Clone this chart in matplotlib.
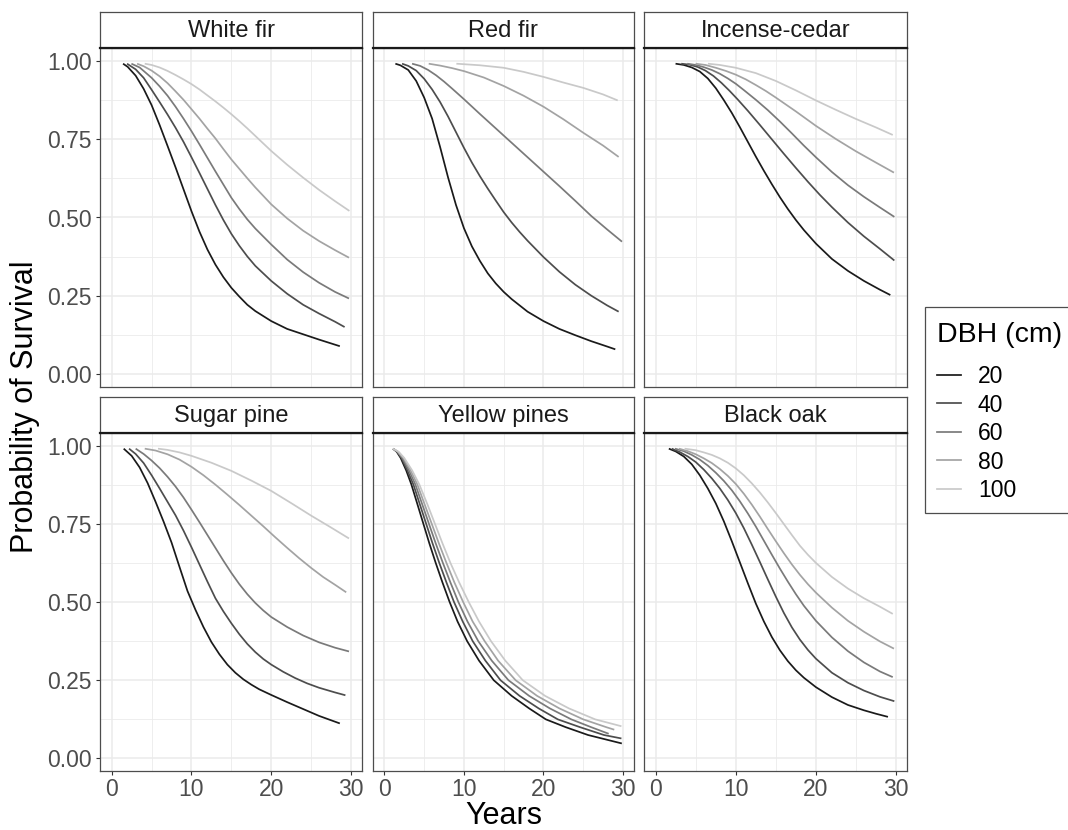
import matplotlib
matplotlib.use("Agg")
import matplotlib.pyplot as plt
from matplotlib.lines import Line2D
from matplotlib.patches import Rectangle

plt.rcParams['font.family'] = ['Liberation Sans', 'DejaVu Sans']

W, H = 1068, 830

species = ["White fir", "Red fir", "Incense-cedar", "Sugar pine", "Yellow pines", "Black oak"]
dbh_labels = ["20", "40", "60", "80", "100"]
dbh_colors = ['#1a1a1a', '#4d4d4d', '#7a7a7a', '#a3a3a3', '#c9c9c9']

# ---- data (years, survival probability) ----
white_fir_years = [
    [1.42, 2, 3, 4, 5, 6, 7, 8, 9, 10, 11, 12, 13, 14, 15, 16, 17, 18, 20, 22, 24, 26, 28.6],
    [1.92, 3, 4, 5, 6, 7, 8, 9, 10, 11, 12, 13, 14, 15, 16, 17, 18, 20, 22, 24, 26, 28, 29.2],
    [2.47, 3.5, 5, 6, 7, 8, 9, 10, 11, 12, 13, 14, 15, 16, 17, 18, 20, 22, 24, 26, 28, 29.75],
    [3.18, 4, 5, 6, 7, 8, 9, 10, 11, 12, 13, 14, 15, 16, 17, 18, 20, 22, 24, 26, 28, 29.75],
    [4.14, 5, 6, 7, 8, 9, 10, 11, 12, 13, 14, 15, 16, 17, 18, 20, 22, 24, 26, 28, 29.8],
]
white_fir_surv = [
    [0.99, 0.98, 0.952, 0.91, 0.858, 0.795, 0.728, 0.66, 0.59, 0.52, 0.455, 0.398, 0.35, 0.31,
     0.276, 0.248, 0.222, 0.202, 0.17, 0.145, 0.128, 0.111, 0.09],
    [0.99, 0.972, 0.945, 0.907, 0.868, 0.828, 0.786, 0.741, 0.692, 0.642, 0.591, 0.54, 0.492,
     0.448, 0.41, 0.376, 0.346, 0.298, 0.257, 0.222, 0.194, 0.168, 0.151],
    [0.99, 0.978, 0.945, 0.918, 0.888, 0.853, 0.815, 0.775, 0.733, 0.69, 0.647, 0.605, 0.563,
     0.527, 0.494, 0.465, 0.414, 0.366, 0.326, 0.292, 0.263, 0.242],
    [0.99, 0.982, 0.968, 0.95, 0.928, 0.902, 0.875, 0.845, 0.815, 0.783, 0.752, 0.718, 0.685,
     0.655, 0.625, 0.596, 0.542, 0.497, 0.458, 0.425, 0.396, 0.372],
    [0.99, 0.986, 0.978, 0.967, 0.954, 0.94, 0.925, 0.908, 0.889, 0.87, 0.85, 0.829, 0.807,
     0.784, 0.76, 0.712, 0.668, 0.627, 0.588, 0.552, 0.521],
]

red_fir_years = [
    [1.38, 2, 3, 4, 5, 6, 7, 8, 9, 10, 11, 12, 13, 14, 15, 16, 17, 18, 20, 22, 24, 26, 28, 29.03],
    [2.22, 3, 4, 5, 6, 7, 8, 9, 10, 11, 12, 13, 14, 15, 16, 17, 18, 20, 22, 24, 26, 28, 29.45],
    [3.48, 4.5, 5.5, 6.5, 7.5, 8.5, 10, 12, 14, 16, 18, 20, 22, 24, 26, 28, 29.87],
    [5.57, 7, 8.5, 10.05, 12.5, 15, 17.5, 20, 22.5, 25, 27.5, 29.45],
    [9.05, 12, 15, 17.5, 20, 22.5, 25, 27.5, 29.33],
]
red_fir_surv = [
    [0.99, 0.985, 0.97, 0.935, 0.882, 0.815, 0.725, 0.628, 0.54, 0.466, 0.408, 0.362, 0.322,
     0.29, 0.263, 0.24, 0.22, 0.2, 0.17, 0.145, 0.125, 0.106, 0.089, 0.08],
    [0.99, 0.983, 0.968, 0.942, 0.908, 0.868, 0.822, 0.772, 0.722, 0.675, 0.632, 0.592, 0.554,
     0.517, 0.484, 0.454, 0.426, 0.374, 0.327, 0.286, 0.251, 0.22, 0.2],
    [0.99, 0.983, 0.97, 0.953, 0.933, 0.911, 0.877, 0.83, 0.784, 0.738, 0.692, 0.646, 0.6,
     0.553, 0.505, 0.462, 0.423],
    [0.99, 0.984, 0.976, 0.966, 0.946, 0.919, 0.888, 0.853, 0.813, 0.77, 0.729, 0.693],
    [0.99, 0.985, 0.977, 0.964, 0.948, 0.93, 0.913, 0.892, 0.873],
]

incense_cedar_years = [
    [2.47, 3.5, 4.5, 5.5, 6.5, 7.5, 8.5, 9.5, 10.5, 11.5, 12.5, 13.5, 14.5, 15.5, 16.5, 17.5,
     18.5, 20, 22, 24, 26, 28, 29.3],
    [3.18, 4.2, 5.2, 6.2, 7.2, 8.2, 9.2, 10.2, 11.5, 13, 14.5, 16, 17.5, 19, 20.5, 22, 24, 26,
     28, 29.8],
    [3.93, 5, 6, 7, 8, 9, 10, 11, 12.5, 14, 15.5, 17, 18.5, 20, 22, 24, 26, 28, 29.8],
    [4.97, 6.2, 7.5, 8.75, 10, 11.25, 12.5, 13.75, 15, 17.5, 20, 22.5, 25, 27.5, 29.75],
    [6.52, 8, 10, 12.5, 15, 17.5, 20, 22.5, 25, 27.5, 29.6],
]
incense_cedar_surv = [
    [0.99, 0.986, 0.978, 0.965, 0.943, 0.912, 0.874, 0.833, 0.788, 0.741, 0.694, 0.649, 0.606,
     0.565, 0.527, 0.492, 0.46, 0.417, 0.368, 0.33, 0.298, 0.27, 0.253],
    [0.99, 0.987, 0.98, 0.968, 0.951, 0.929, 0.904, 0.877, 0.84, 0.795, 0.749, 0.703, 0.658,
     0.614, 0.572, 0.533, 0.484, 0.44, 0.4, 0.363],
    [0.99, 0.986, 0.979, 0.97, 0.958, 0.943, 0.926, 0.906, 0.875, 0.842, 0.806, 0.768, 0.729,
     0.692, 0.645, 0.603, 0.566, 0.532, 0.502],
    [0.99, 0.986, 0.977, 0.967, 0.955, 0.94, 0.922, 0.903, 0.882, 0.838, 0.792, 0.75, 0.711,
     0.675, 0.643],
    [0.99, 0.986, 0.977, 0.96, 0.935, 0.905, 0.873, 0.843, 0.814, 0.787, 0.763],
]

sugar_pine_years = [
    [1.5, 2.5, 3.5, 4.5, 5.5, 6.5, 7.5, 8.5, 9.5, 10.5, 11.5, 12.5, 13.5, 14.5, 15.5, 16.5,
     17.5, 18.5, 20, 22, 24, 26, 28.6],
    [2.17, 3, 4, 5, 6, 7, 8, 9, 10, 11, 12, 13, 14, 15, 16, 17, 18, 19, 20, 21.5, 23, 24.5,
     26, 28, 29.3],
    [3, 4, 5, 6, 7, 8, 9, 10, 11, 12, 13, 14, 15, 16, 17, 18, 19, 20, 22, 24, 26, 28, 29.75],
    [4.14, 5.5, 7, 8.5, 10, 11.5, 13, 14.5, 16, 17.5, 19, 20.5, 22, 23.5, 25, 26.5, 28, 29.4],
    [5.8, 7, 8.5, 10, 12.5, 15, 17.5, 20, 22.5, 25, 27.5, 29.75],
]
sugar_pine_surv = [
    [0.99, 0.967, 0.93, 0.88, 0.82, 0.757, 0.69, 0.612, 0.535, 0.475, 0.42, 0.372, 0.333, 0.3,
     0.274, 0.253, 0.236, 0.221, 0.203, 0.18, 0.158, 0.136, 0.112],
    [0.99, 0.973, 0.944, 0.905, 0.863, 0.82, 0.777, 0.728, 0.675, 0.62, 0.565, 0.512, 0.47,
     0.432, 0.397, 0.366, 0.34, 0.318, 0.3, 0.277, 0.257, 0.24, 0.226, 0.211, 0.202],
    [0.99, 0.973, 0.952, 0.928, 0.9, 0.869, 0.834, 0.795, 0.755, 0.714, 0.673, 0.632, 0.593,
     0.557, 0.525, 0.497, 0.473, 0.452, 0.42, 0.393, 0.371, 0.354, 0.342],
    [0.99, 0.984, 0.972, 0.955, 0.932, 0.905, 0.875, 0.843, 0.81, 0.776, 0.742, 0.707, 0.673,
     0.64, 0.609, 0.58, 0.555, 0.531],
    [0.99, 0.986, 0.978, 0.967, 0.945, 0.919, 0.888, 0.855, 0.816, 0.776, 0.738, 0.703],
]

yellow_pines_years = [
    [1.09, 1.55, 2.05, 2.75, 3.4, 4.15, 4.9, 5.65, 6.45, 7.3, 8.2, 9.2, 10.4, 11.9, 13.75, 16.0,
     18.2, 20.3, 22.8, 25.6, 29.85],
    [1.09, 1.6, 2.15, 2.9, 3.65, 4.45, 5.25, 6.05, 6.9, 7.8, 8.75, 9.85, 11.1, 12.7, 14.6, 17.0,
     19.4, 21.8, 24.6, 27.6, 29.8],
    [1.09, 1.65, 2.25, 3.1, 3.9, 4.75, 5.6, 6.45, 7.35, 8.3, 9.3, 10.45, 11.8, 13.5, 15.6, 18.2,
     20.8, 23.5, 26.0, 28.2],
    [1.09, 1.7, 2.4, 3.3, 4.15, 5.05, 5.95, 6.85, 7.8, 8.8, 9.9, 11.1, 12.6, 14.3, 16.5, 19.2,
     22.0, 25.0, 27.9, 28.9],
    [1.09, 1.8, 2.5, 3.5, 4.4, 5.4, 6.35, 7.3, 8.3, 9.4, 10.6, 11.9, 13.4, 15.2, 17.4, 20.2,
     23.2, 26.5, 29.8],
]
yellow_pines_surv = [
    [0.99, 0.98, 0.96, 0.92, 0.875, 0.8125, 0.75, 0.6875, 0.625, 0.5625, 0.5, 0.4375, 0.375,
     0.3125, 0.25, 0.2, 0.16, 0.125, 0.1, 0.075, 0.048],
    [0.99, 0.98, 0.96, 0.92, 0.875, 0.8125, 0.75, 0.6875, 0.625, 0.5625, 0.5, 0.4375, 0.375,
     0.3125, 0.25, 0.2, 0.16, 0.125, 0.1, 0.075, 0.064],
    [0.99, 0.98, 0.96, 0.92, 0.875, 0.8125, 0.75, 0.6875, 0.625, 0.5625, 0.5, 0.4375, 0.375,
     0.3125, 0.25, 0.2, 0.16, 0.125, 0.1, 0.079],
    [0.99, 0.98, 0.96, 0.92, 0.875, 0.8125, 0.75, 0.6875, 0.625, 0.5625, 0.5, 0.4375, 0.375,
     0.3125, 0.25, 0.2, 0.16, 0.125, 0.1, 0.092],
    [0.99, 0.98, 0.96, 0.92, 0.875, 0.8125, 0.75, 0.6875, 0.625, 0.5625, 0.5, 0.4375, 0.375,
     0.3125, 0.25, 0.2, 0.16, 0.125, 0.103],
]

black_oak_years = [
    [1.63, 2.5, 3.5, 4.5, 5.5, 6.5, 7.5, 8.5, 9.5, 10.5, 11.5, 12.5, 13.5, 14.5, 15.5, 16.5,
     17.5, 18.5, 20, 22, 24, 26, 27.5, 29],
    [2, 3, 4, 5, 6, 7, 8, 9, 10, 11, 12, 13, 14, 15, 16, 17, 18, 19, 20, 22, 24, 26, 28, 29.8],
    [2.4, 3.5, 4.5, 5.5, 6.5, 7.5, 8.5, 9.5, 10.5, 11.5, 12.5, 13.5, 14.5, 15.5, 16.5, 17.5,
     18.5, 20, 22, 24, 26, 28, 29.6],
    [2.9, 4, 5, 6, 7, 8, 9, 10, 11, 12, 13, 14, 15, 16, 17, 18, 19, 20, 22, 24, 26, 28, 29.75],
    [3.6, 5, 6, 7, 8, 9, 10, 11, 12, 13, 14, 15, 16, 17, 18, 19, 20, 22, 24, 26, 28, 29.6],
]
black_oak_surv = [
    [0.99, 0.981, 0.965, 0.94, 0.905, 0.863, 0.815, 0.758, 0.694, 0.627, 0.56, 0.495, 0.438,
     0.388, 0.346, 0.311, 0.282, 0.258, 0.228, 0.196, 0.171, 0.154, 0.143, 0.133],
    [0.99, 0.979, 0.965, 0.947, 0.923, 0.895, 0.863, 0.826, 0.784, 0.736, 0.683, 0.628, 0.572,
     0.517, 0.465, 0.419, 0.38, 0.347, 0.319, 0.274, 0.242, 0.217, 0.197, 0.183],
    [0.99, 0.982, 0.97, 0.955, 0.936, 0.913, 0.887, 0.857, 0.822, 0.783, 0.741, 0.696, 0.651,
     0.607, 0.565, 0.525, 0.488, 0.44, 0.387, 0.343, 0.307, 0.278, 0.26],
    [0.99, 0.982, 0.972, 0.959, 0.944, 0.925, 0.903, 0.877, 0.846, 0.811, 0.773, 0.733, 0.694,
     0.656, 0.62, 0.587, 0.557, 0.53, 0.482, 0.44, 0.405, 0.374, 0.351],
    [0.99, 0.985, 0.978, 0.97, 0.959, 0.945, 0.927, 0.905, 0.879, 0.85, 0.818, 0.784, 0.749,
     0.714, 0.68, 0.651, 0.625, 0.58, 0.543, 0.512, 0.485, 0.462],
]

years_by_species = [white_fir_years, red_fir_years, incense_cedar_years,
                    sugar_pine_years, yellow_pines_years, black_oak_years]
surv_by_species = [white_fir_surv, red_fir_surv, incense_cedar_surv,
                   sugar_pine_surv, yellow_pines_surv, black_oak_surv]

x_ticks = [0, 10, 20, 30]
y_ticks = [0.0, 0.25, 0.5, 0.75, 1.0]
y_tick_labels = ["0.00", "0.25", "0.50", "0.75", "1.00"]

# ---- layout (pixels) ----
col_l = [100, 372.7, 644]
col_r = [362, 634, 907]
row_t = [48, 433]
row_b = [387, 771]
strip_h = 36


def frect(x0, y0, x1, y1):
    return [x0 / W, 1 - y1 / H, (x1 - x0) / W, (y1 - y0) / H]


fig = plt.figure(figsize=(W / 100, H / 100), dpi=100)
fig.patch.set_facecolor('white')

border = '#4d4d4d'
for i, name in enumerate(species):
    r, c = divmod(i, 3)
    ax = fig.add_axes(frect(col_l[c], row_t[r], col_r[c], row_b[r]))
    ax.set_xlim(-1.47, 31.38)
    ax.set_ylim(-0.04, 1.04)
    ax.set_xticks(x_ticks)
    ax.set_xticks([5, 15, 25], minor=True)
    ax.set_yticks(y_ticks)
    ax.set_yticks([0.125, 0.375, 0.625, 0.875], minor=True)
    ax.set_yticklabels(y_tick_labels)
    ax.grid(which='major', color='#ebebeb', lw=1.1)
    ax.grid(which='minor', color='#ebebeb', lw=0.6)
    ax.set_axisbelow(True)
    for sp in ax.spines.values():
        sp.set_color(border)
        sp.set_linewidth(0.9)
    ax.tick_params(which='minor', length=0)
    ax.tick_params(which='major', length=3.2, width=0.8, color='#333333',
                   labelcolor='#4d4d4d', labelsize=16.5, pad=3)
    ax.tick_params(axis='x', which='major', pad=1.5)
    if c != 0:
        ax.tick_params(axis='y', which='major', length=0, labelleft=False)
    if r == 0:
        ax.tick_params(axis='x', which='major', length=0, labelbottom=False)

    for k in range(5):
        ax.plot(years_by_species[i][k], surv_by_species[i][k],
                color=dbh_colors[k], lw=1.25, solid_capstyle='butt',
                solid_joinstyle='round')

    sax = fig.add_axes(frect(col_l[c], row_t[r] - strip_h, col_r[c], row_t[r]))
    sax.set_xticks([])
    sax.set_yticks([])
    sax.set_facecolor('white')
    for sp in sax.spines.values():
        sp.set_color(border)
        sp.set_linewidth(0.9)
    sax.spines['bottom'].set_color('#1a1a1a')
    sax.spines['bottom'].set_linewidth(1.6)
    sax.text(0.5, 0.47, name, transform=sax.transAxes, ha='center', va='center',
             fontsize=17, color='#1a1a1a')

# axis titles
fig.text(503.5 / W, 1 - 824 / H, "Years", ha='center', va='baseline',
         fontsize=22, color='black')
fig.text(25 / W, 1 - 406.5 / H, "Probability of Survival", ha='center',
         va='center', rotation=90, fontsize=22, color='black')

# legend
fig.patches.append(Rectangle((925 / W, 1 - 512.7 / H), 160 / W, 206 / H,
                             transform=fig.transFigure, facecolor='white',
                             edgecolor='#4d4d4d', lw=0.9, zorder=1))
fig.text(937 / W, 1 - 341.7 / H, "DBH (cm)", ha='left', va='baseline',
         fontsize=20.5, color='black')
key_y = [375, 403.5, 432, 460.5, 489]
for k, lab in enumerate(dbh_labels):
    yy = 1 - key_y[k] / H
    fig.lines.append(Line2D([937 / W, 961 / W], [yy, yy], transform=fig.transFigure,
                            color=dbh_colors[k], lw=1.25))
    fig.text(978 / W, 1 - (key_y[k] + 8.3) / H, lab, ha='left', va='baseline',
             fontsize=16.5, color='black')

fig.savefig("out.png", dpi=100)
